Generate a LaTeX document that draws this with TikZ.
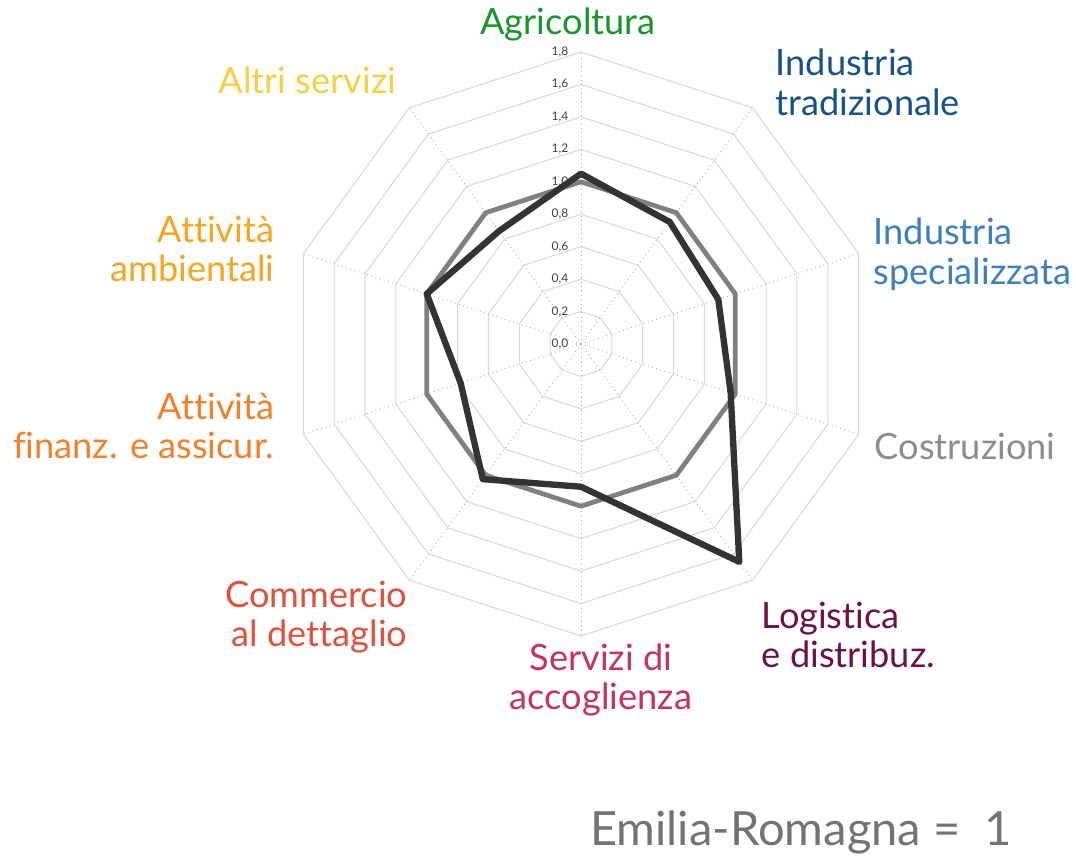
\documentclass[tikz,border=0pt]{standalone}
\usepackage{fontspec}
\setmainfont{Lato}[Ligatures={CommonOff,RequiredOff,ContextualOff}]

\definecolor{cAgri}{RGB}{22,150,40}
\definecolor{cIndTrad}{RGB}{20,82,140}
\definecolor{cIndSpec}{RGB}{58,128,192}
\definecolor{cCostr}{RGB}{140,140,140}
\definecolor{cLogist}{RGB}{108,16,70}
\definecolor{cAccogl}{RGB}{200,50,90}
\definecolor{cComm}{RGB}{224,80,58}
\definecolor{cFinanz}{RGB}{242,128,40}
\definecolor{cAmbient}{RGB}{246,166,30}
\definecolor{cAltri}{RGB}{246,208,64}

\tikzset{
  ring/.style={draw=black!15, line width=0.3pt},
  spoke/.style={draw=black!35, line width=0.25pt, densely dotted},
  tick/.style={font=\fontsize{3.4}{4}\selectfont, text=black!75, anchor=east, inner sep=0pt},
  sector/.style={font=\fontsize{10.3}{11.3}\selectfont, inner sep=0pt},
}

\begin{document}
\begin{tikzpicture}
\useasboundingbox (-5.81,-5.14) rectangle (4.95,3.44);

% griglia
\foreach \r in {1,...,9}
  \draw[ring] (90:\r*0.3244) \foreach \a in {1,...,9} { -- (90-\a*36:\r*0.3244) } -- cycle;
\foreach \a in {0,...,9}
  \draw[spoke] (0,0) -- (90-\a*36:2.92);

% scala
\foreach \i/\t in {0/{0,0},1/{0,2},2/{0,4},3/{0,6},4/{0,8},5/{1,0},6/{1,2},7/{1,4},8/{1,6},9/{1,8}}
  \node[tick] (tick\i) at (-0.12,\i*0.3244) {\t};

% Emilia-Romagna = 1
\draw[draw=black!50, line width=1.35pt, line join=round]
  (90:1.6222) \foreach \a in {1,...,9} { -- (90-\a*36:1.6222) } -- cycle;

% provincia
\draw[draw=black!80, line width=1.8pt, line join=round]
  (90:1.05*1.6222) -- (54:0.93*1.6222) -- (18:0.89*1.6222) -- (-18:0.97*1.6222)
  -- (-54:1.66*1.6222) -- (-90:0.88*1.6222) -- (-126:1.03*1.6222)
  -- (-162:0.78*1.6222) -- (162:1.0*1.6222) -- (126:0.86*1.6222) -- cycle;

% etichette
\node[sector, text=cAgri] (agri) at (-0.13,3.20) {Agricoltura};
\node[sector, text=cIndTrad, align=left, anchor=west] (indtrad) at (1.94,2.62) {Industria\\tradizionale};
\node[sector, text=cIndSpec, align=left, anchor=west] (indspec) at (2.92,0.90) {Industria\\specializzata};
\node[sector, text=cCostr, anchor=west] (costr) at (2.93,-1.02) {Costruzioni};
\node[sector, text=cLogist, align=left, anchor=west] (logist) at (1.80,-2.91) {Logistica\\e distribuz.};
\node[sector, text=cAccogl, align=center] (accogl) at (0.20,-3.36) {Servizi di\\accoglienza};
\node[sector, text=cComm, align=right, anchor=east] (comm) at (-1.73,-2.73) {Commercio\\al dettaglio};
\node[sector, text=cFinanz, align=right, anchor=east] (finanz) at (-3.06,-0.82) {Attività\\finanz. e assicur.};
\node[sector, text=cAmbient, align=right, anchor=east] (ambient) at (-3.06,0.95) {Attività\\ambientali};
\node[sector, text=cAltri, anchor=east] (altri) at (-1.84,2.64) {Altri servizi};

\node[font=\fontsize{13.4}{15}\selectfont, text=black!55, inner sep=0pt] (emilia) at (2.20,-4.88) {Emilia-Romagna =\ \ 1};
\end{tikzpicture}
\end{document}
